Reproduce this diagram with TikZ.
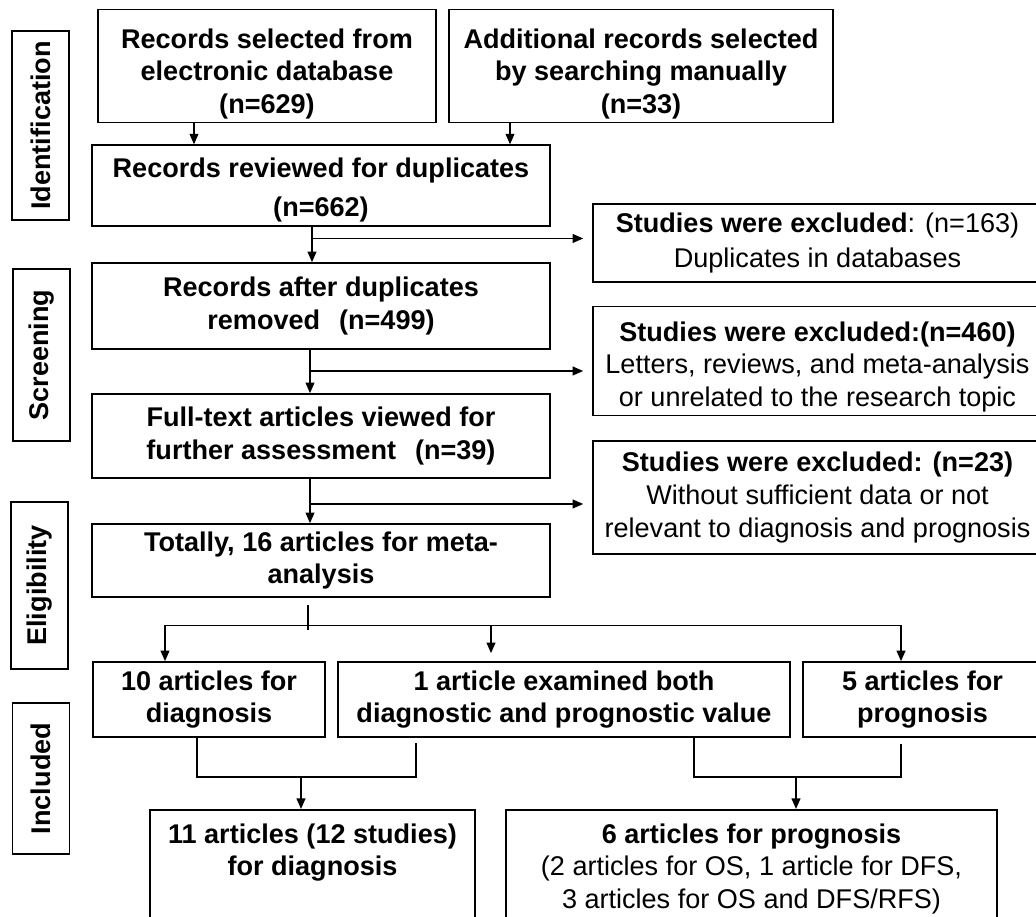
\documentclass[tikz,border=0pt]{standalone}
\usepackage{fontspec}
\setmainfont{Liberation Sans}
\usetikzlibrary{positioning, arrows.meta}
\newcommand{\lowerby}[1]{\rule{0pt}{\dimexpr 11pt+#1\relax}}

\begin{document}
\begin{tikzpicture}[
  font=\fontsize{15.4}{18.6}\selectfont\bfseries,
  line width=0.9pt,
  box/.style={draw, align=center, inner sep=2pt},
  stage/.style={draw, rotate=90, inner sep=0pt, minimum height=1.14cm},
  arr/.style={-{Triangle[length=6pt,width=5pt]}},
]
\useasboundingbox (0,0) rectangle (20.72,18.34);
\clip (0,0) rectangle (20.72,18.34);

% Stage labels
\node[stage, minimum width=3.78cm] (ident) at (0.81,15.83) {Identification};
\node[stage, minimum width=3.44cm] (screen) at (0.83,11.24) {Screening};
\node[stage, minimum width=3.34cm] (elig) at (0.79,6.63) {Eligibility};
\node[stage, minimum width=3.02cm] (incl) at (0.82,2.77) {Included};

% Identification
\node[box, minimum width=6.76cm, minimum height=2.08cm] (db) at (5.34,17.02) {\lowerby{0.32cm}Records selected from\\electronic database\\(n=629)};
\node[box, minimum width=7.68cm, minimum height=2.08cm] (manual) at (12.82,17.02) {\lowerby{0.32cm}Additional records selected\\by searching manually\\(n=33)};
\node[box, minimum width=9.16cm, minimum height=1.38cm] (dup) at (6.42,14.63) {\lowerby{0.2cm}Records reviewed for duplicates\\[0.12cm](n=662)};

% Screening and eligibility
\node[box, minimum width=9.16cm, minimum height=1.72cm] (removed) at (6.42,12.22) {Records after duplicates\\removed\hspace{0.7em}(n=499)};
\node[box, minimum width=9.16cm, minimum height=1.68cm] (fulltext) at (6.42,9.62) {Full-text articles viewed for\\further assessment\hspace{0.7em}(n=39)};
\node[box, minimum width=9.16cm, minimum height=1.46cm] (total) at (6.42,7.13) {Totally, 16 articles for meta-\\analysis};

% Exclusions
\node[box, minimum width=8.98cm, minimum height=1.56cm] (excl1) at (16.35,13.48) {Studies were excluded\mdseries: (n=163)\\[0.06cm]\mdseries Duplicates in databases};
\node[box, minimum width=8.98cm, minimum height=2.08cm] (excl2) at (16.35,11.12) {\lowerby{0.24cm}Studies were excluded:(n=460)\\\mdseries Letters, reviews, and meta-analysis\\\mdseries or unrelated to the research topic};
\node[box, minimum width=8.98cm, minimum height=2.26cm] (excl3) at (16.35,8.39) {Studies were excluded: (n=23)\\\mdseries Without sufficient data or not\\\mdseries relevant to diagnosis and prognosis};

% Included
\node[box, minimum width=4.64cm, minimum height=1.5cm] (diag) at (4.18,4.35) {10 articles for\\diagnosis};
\node[box, minimum width=9.04cm, minimum height=1.5cm] (both) at (11.28,4.35) {1 article examined both\\diagnostic and prognostic value};
\node[box, minimum width=4.78cm, minimum height=1.5cm] (prog) at (18.45,4.35) {5 articles for\\prognosis};

\node[draw, minimum width=6.5cm, minimum height=3cm, anchor=north] (diagall) at (6.25,2.16) {};
\node[below=0.16cm of diagall.north, align=center] {11 articles (12 studies)\\for diagnosis};
\node[draw, minimum width=9.82cm, minimum height=3cm, anchor=north] (progall) at (15.03,2.16) {};
\node[below=0.16cm of progall.north, align=center] {6 articles for prognosis\\\mdseries (2 articles for OS, 1 article for DFS,\\\mdseries 3 articles for OS and DFS/RFS)};

% Connectors
\coordinate (c1) at (3.88,0);
\coordinate (c2) at (10.2,0);
\draw[arr] (db.south -| c1) -- (dup.north -| c1);
\draw[arr] (manual.south -| c2) -- (dup.north -| c2);

\coordinate (s1) at (6.24,13.57);
\coordinate (s2) at (6.20,10.92);
\coordinate (s3) at (6.20,8.26);
\draw[arr] (dup.south -| s1) -- (removed.north -| s1);
\draw[arr, shorten >=0.18cm] (s1) -- (s1 -| excl1.west);
\draw[arr] (removed.south -| s2) -- (fulltext.north -| s2);
\draw[arr, shorten >=0.18cm] (s2) -- (s2 -| excl2.west);
\draw[arr] (fulltext.south -| s3) -- (total.north -| s3);
\draw[arr, shorten >=0.18cm] (s3) -- (s3 -| excl3.west);

% Split
\coordinate (barL) at (3.30,5.83);
\coordinate (barR) at (18.02,5.83);
\coordinate (barM) at (9.82,5.83);
\coordinate (f1) at (6.16,0);
\draw (barL) -- (barR);
\draw[shorten <=0.14cm, shorten >=-0.1cm] (total.south -| f1) -- (barL -| f1);
\draw[arr] (barL) -- (diag.north -| barL);
\draw[arr, shorten >=0.16cm] (barM) -- (both.north -| barM);
\draw[arr] (barR) -- (prog.north -| barR);

% Merge
\coordinate (jL) at (3.94,2.80);
\coordinate (jR) at (8.32,2.80);
\coordinate (jM) at (6.02,2.80);
\draw (diag.south -| jL) -- (jL) -- (jR) -- ([yshift=-0.1cm]both.south -| jR);
\draw[arr] (jM) -- (diagall.north -| jM);
\coordinate (kL) at (13.88,2.80);
\coordinate (kR) at (18.02,2.80);
\coordinate (kM) at (15.92,2.80);
\draw (both.south -| kL) -- (kL) -- (kR) -- ([yshift=-0.12cm]prog.south -| kR);
\draw[arr] (kM) -- (progall.north -| kM);

\end{tikzpicture}
\end{document}
